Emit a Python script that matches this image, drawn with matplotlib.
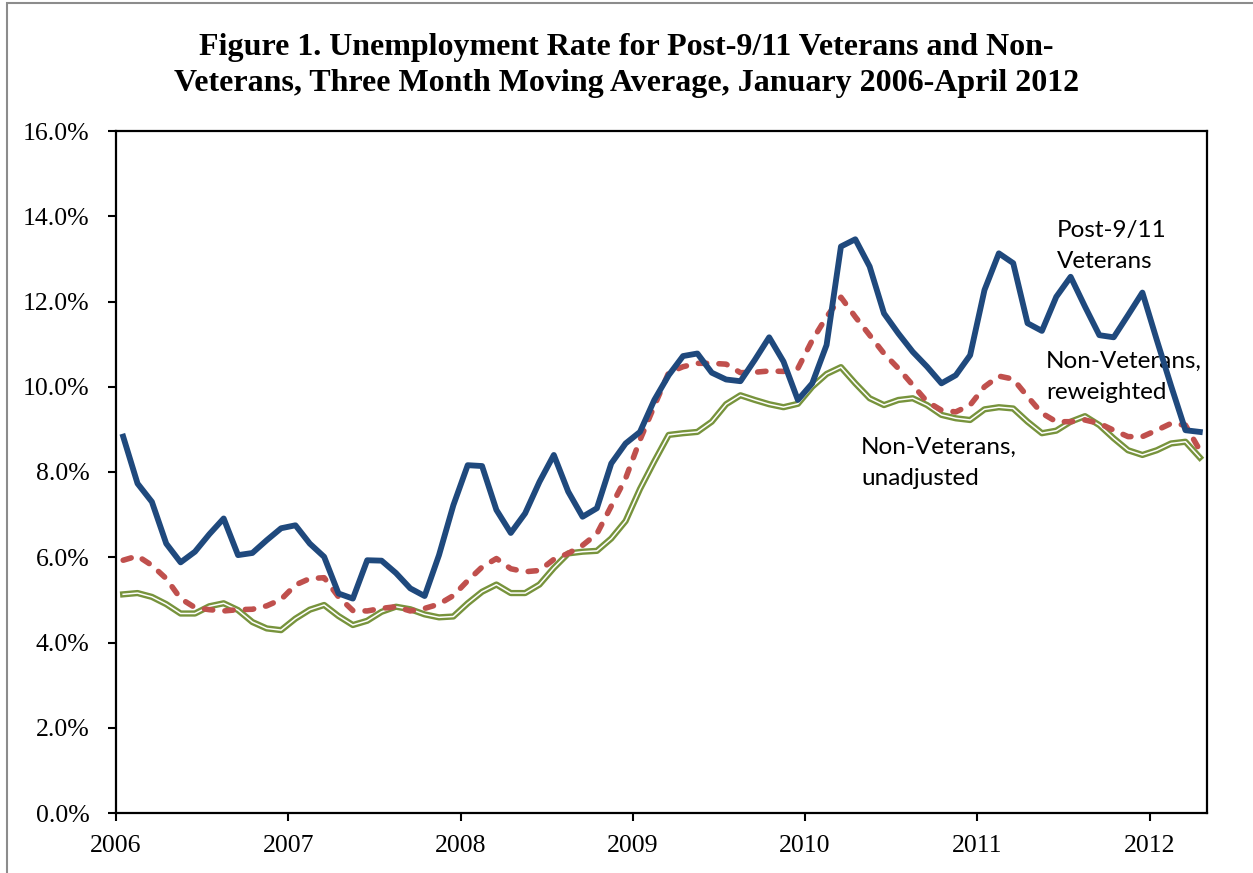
import matplotlib
matplotlib.use("Agg")
import matplotlib.pyplot as plt
from matplotlib.patches import Rectangle
import numpy as np

# ---- data (monthly, Jan 2006 - Apr 2012, 3-month moving average, %) ----
years = ["2006", "2007", "2008", "2009", "2010", "2011", "2012"]
post911_veterans = [8.83, 7.73, 7.30, 6.32, 5.88, 6.13, 6.54, 6.91, 6.05, 6.10,
                    6.40, 6.68, 6.75, 6.32, 6.01, 5.15, 5.03, 5.93, 5.92, 5.63,
                    5.27, 5.09, 6.05, 7.22, 8.16, 8.14, 7.11, 6.57, 7.03, 7.77,
                    8.40, 7.54, 6.95, 7.15, 8.20, 8.67, 8.94, 9.69, 10.27, 10.72,
                    10.78, 10.33, 10.17, 10.13, 10.63, 11.16, 10.59, 9.69, 10.08, 10.98,
                    13.29, 13.46, 12.82, 11.72, 11.25, 10.82, 10.47, 10.08, 10.27, 10.74,
                    12.27, 13.13, 12.90, 11.49, 11.31, 12.11, 12.58, 11.88, 11.21, 11.16,
                    11.68, 12.21, 11.10, 10.02, 8.98, 8.94]
nonvet_reweighted = [5.93, 6.03, 5.81, 5.50, 5.03, 4.82, 4.77, 4.74, 4.77, 4.78,
                     4.86, 5.01, 5.35, 5.50, 5.52, 5.07, 4.75, 4.74, 4.80, 4.84,
                     4.74, 4.80, 4.90, 5.10, 5.45, 5.77, 5.97, 5.73, 5.66, 5.69,
                     5.95, 6.09, 6.28, 6.55, 7.20, 7.85, 8.75, 9.55, 10.33, 10.47,
                     10.55, 10.55, 10.53, 10.33, 10.34, 10.37, 10.36, 10.43, 11.09, 11.64,
                     12.10, 11.64, 11.21, 10.78, 10.43, 10.04, 9.65, 9.45, 9.41, 9.57,
                     10.00, 10.25, 10.18, 9.77, 9.38, 9.18, 9.18, 9.22, 9.14, 8.98,
                     8.83, 8.83, 8.98, 9.14, 9.10, 8.51]
nonvet_unadjusted = [5.13, 5.16, 5.07, 4.90, 4.68, 4.68, 4.85, 4.92, 4.76, 4.48,
                     4.33, 4.29, 4.56, 4.77, 4.88, 4.62, 4.41, 4.51, 4.72, 4.84,
                     4.78, 4.66, 4.59, 4.61, 4.92, 5.19, 5.36, 5.16, 5.16, 5.36,
                     5.75, 6.09, 6.13, 6.15, 6.44, 6.85, 7.60, 8.25, 8.87, 8.91,
                     8.94, 9.18, 9.59, 9.80, 9.69, 9.59, 9.52, 9.60, 10.00, 10.30,
                     10.46, 10.08, 9.73, 9.57, 9.69, 9.73, 9.57, 9.34, 9.26, 9.22,
                     9.47, 9.52, 9.49, 9.18, 8.91, 8.97, 9.18, 9.31, 9.10, 8.79,
                     8.51, 8.40, 8.51, 8.67, 8.71, 8.34]

months = np.arange(len(post911_veterans))

W, H = 1253, 873
fig = plt.figure(figsize=(W / 100, H / 100), dpi=100)
fig.patch.set_facecolor("white")

# outer chart-area border (left and top visible)
fig.patches.append(Rectangle((7 / W, -0.05), 1.2, 1 - 3 / H + 0.05,
                             transform=fig.transFigure, fill=False,
                             edgecolor="#8c8c8c", linewidth=1.5))

ax = fig.add_axes([116 / W, 1 - 813 / H, (1207 - 116) / W, (813 - 131) / H])

serif = "Liberation Serif"

green = "#77933C"
ax.plot(months, nonvet_unadjusted, color=green, lw=4.5, zorder=2)
ax.plot(months, nonvet_unadjusted, color="white", lw=1.1, zorder=2.1)
ax.plot(months, nonvet_reweighted, color="#C0504D", lw=4.0, dashes=(1.5, 2.2),
        dash_capstyle="round", zorder=3)
ax.plot(months, post911_veterans, color="#1F497D", lw=4.2, solid_joinstyle="round",
        zorder=4)

ax.set_xlim(-0.5, len(months) - 0.5)
ax.set_ylim(0, 16)
ax.set_yticks(np.arange(0, 16.1, 2))
ax.set_yticklabels([f"{v:.1f}%" for v in np.arange(0, 16.1, 2)])
ax.set_xticks([-0.5 + 12 * k for k in range(len(years))])
ax.set_xticklabels(years)

for s in ax.spines.values():
    s.set_linewidth(1.6)
    s.set_color("black")
ax.tick_params(axis="y", direction="out", length=6, width=1.5, pad=13,
               labelsize=18.5, right=False)
ax.tick_params(axis="x", direction="out", length=6, width=1.5, pad=10,
               labelsize=18.5, top=False)
for lab in ax.get_xticklabels() + ax.get_yticklabels():
    lab.set_fontfamily(serif)

fig.text(0.5, 1 - 47 / H,
         "Figure 1. Unemployment Rate for Post-9/11 Veterans and Non-",
         ha="center", va="center", fontsize=23, fontweight="bold", family=serif)
fig.text(0.5, 1 - 84 / H,
         "Veterans, Three Month Moving Average, January 2006-April 2012",
         ha="center", va="center", fontsize=23, fontweight="bold", family=serif)

sans = ["Lato", "DejaVu Sans"]
ax.text(1057, H - 246, "Post-9/11\nVeterans", transform=None, fontsize=17.5,
        family=sans, ha="left", va="center", linespacing=1.6)
ax.text(1046, H - 377, "Non-Veterans,\nreweighted", transform=None, fontsize=17.5,
        family=sans, ha="left", va="center", linespacing=1.55)
ax.text(861, H - 463, "Non-Veterans,\nunadjusted", transform=None, fontsize=17.5,
        family=sans, ha="left", va="center", linespacing=1.55)

fig.savefig("out.png", dpi=100)
